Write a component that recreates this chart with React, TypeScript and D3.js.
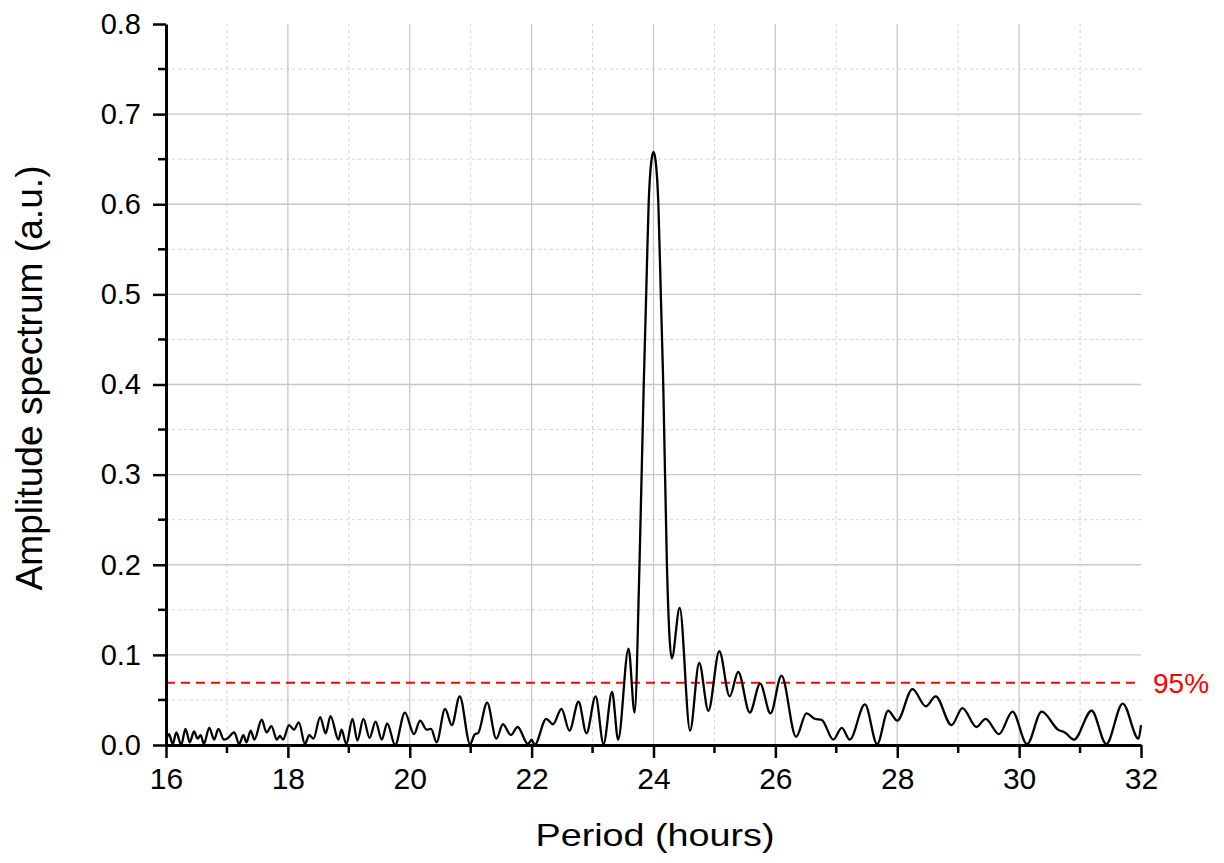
import React, { useRef, useEffect } from "react";
import * as d3 from "d3";

// period (hours) of each local extreme
const periods = [
  16.0, 16.05, 16.11, 16.17, 16.25, 16.32, 16.39, 16.46, 16.52, 16.57, 16.62,
  16.71, 16.79, 16.86, 16.95, 17.0, 17.12, 17.2, 17.27, 17.32, 17.39, 17.45,
  17.57, 17.65, 17.73, 17.82, 17.87, 17.92, 18.02, 18.1, 18.18, 18.28, 18.35,
  18.42, 18.53, 18.62, 18.7, 18.83, 18.88, 18.96, 19.06, 19.14, 19.24, 19.34,
  19.44, 19.54, 19.63, 19.76, 19.92, 20.07, 20.17, 20.28, 20.35, 20.44, 20.58,
  20.69, 20.82, 20.99, 21.07, 21.12, 21.27, 21.42, 21.53, 21.66, 21.77, 21.94,
  22.0, 22.05, 22.24, 22.35, 22.49, 22.62, 22.77, 22.9, 23.05, 23.18, 23.32,
  23.42, 23.59, 23.69, 23.77, 23.84, 23.88, 23.92, 23.965, 24.0, 24.035, 24.08,
  24.12, 24.16, 24.22, 24.3, 24.43, 24.6, 24.75, 24.9, 25.08, 25.25, 25.39,
  25.58, 25.75, 25.92, 26.1, 26.34, 26.51, 26.65, 26.76, 26.95, 27.09, 27.22,
  27.47, 27.67, 27.85, 28.0, 28.25, 28.47, 28.63, 28.89, 29.07, 29.3, 29.45,
  29.67, 29.89, 30.13, 30.37, 30.64, 30.75, 30.9, 31.19, 31.43, 31.7, 31.96,
  32.0,
];

// amplitude spectrum (a.u.) at those periods
const amplitudes = [
  0.004, 0.012, 0.001, 0.014, 0.0, 0.018, 0.003, 0.015, 0.007, 0.011, 0.001,
  0.019, 0.006, 0.018, 0.006, 0.007, 0.014, 0.001, 0.011, 0.003, 0.016, 0.006,
  0.028, 0.014, 0.021, 0.006, 0.01, 0.006, 0.022, 0.017, 0.025, 0.001, 0.011,
  0.007, 0.031, 0.013, 0.032, 0.006, 0.017, 0.001, 0.029, 0.005, 0.029, 0.008,
  0.026, 0.006, 0.024, 0.0, 0.036, 0.012, 0.027, 0.017, 0.018, 0.003, 0.04,
  0.022, 0.054, 0.001, 0.012, 0.013, 0.047, 0.007, 0.023, 0.011, 0.02, 0.001,
  0.006, 0.0, 0.029, 0.023, 0.04, 0.016, 0.048, 0.013, 0.054, 0.001, 0.059,
  0.006, 0.107, 0.036, 0.2, 0.4, 0.5, 0.6, 0.648, 0.658, 0.648, 0.6,
  0.5, 0.4, 0.2, 0.096, 0.152, 0.016, 0.091, 0.038, 0.104, 0.054, 0.081,
  0.036, 0.068, 0.035, 0.077, 0.009, 0.035, 0.029, 0.028, 0.006, 0.019, 0.006,
  0.045, 0.001, 0.038, 0.027, 0.062, 0.043, 0.054, 0.022, 0.041, 0.02, 0.029,
  0.012, 0.037, 0.001, 0.037, 0.017, 0.014, 0.006, 0.038, 0.001, 0.046, 0.007,
  0.022,
];

const threshold = 0.069;
const thresholdLabel = "95%";

const xMajor = [16, 18, 20, 22, 24, 26, 28, 30, 32];
const xMinor = [17, 19, 21, 23, 25, 27, 29, 31];
const yMajor = [0, 0.1, 0.2, 0.3, 0.4, 0.5, 0.6, 0.7, 0.8];
const yMinor = [0.05, 0.15, 0.25, 0.35, 0.45, 0.55, 0.65, 0.75];

const FONT = "'Liberation Sans', Arial, sans-serif";

const App = () => {
  const svgRef = useRef<SVGSVGElement>(null);

  useEffect(() => {
    const margin = { top: 24, left: 166 };
    const width = 975,
      height = 721;

    const root = d3.select(svgRef.current);
    root.selectAll("*").remove();
    const svg = root
      .append("g")
      .attr("transform", `translate(${margin.left},${margin.top})`);

    const x = d3.scaleLinear().domain([16, 32]).range([0, width]);
    const y = d3.scaleLinear().domain([0, 0.8]).range([height, 0]);

    // grid
    svg
      .selectAll(".vminor")
      .data(xMinor)
      .enter()
      .append("line")
      .attr("x1", (d) => x(d))
      .attr("x2", (d) => x(d))
      .attr("y1", 0)
      .attr("y2", height)
      .attr("stroke", "#d4d4d4")
      .attr("stroke-dasharray", "3,3");
    svg
      .selectAll(".hminor")
      .data(yMinor)
      .enter()
      .append("line")
      .attr("x1", 0)
      .attr("x2", width)
      .attr("y1", (d) => y(d))
      .attr("y2", (d) => y(d))
      .attr("stroke", "#d4d4d4")
      .attr("stroke-dasharray", "3,3");
    svg
      .selectAll(".vmajor")
      .data(xMajor.slice(1, -1))
      .enter()
      .append("line")
      .attr("x1", (d) => x(d))
      .attr("x2", (d) => x(d))
      .attr("y1", 0)
      .attr("y2", height)
      .attr("stroke", "#c8c8c8")
      .attr("stroke-width", 1.3);
    svg
      .selectAll(".hmajor")
      .data(yMajor.slice(1, -1))
      .enter()
      .append("line")
      .attr("x1", 0)
      .attr("x2", width)
      .attr("y1", (d) => y(d))
      .attr("y2", (d) => y(d))
      .attr("stroke", "#c8c8c8")
      .attr("stroke-width", 1.3);

    // 95% line
    svg
      .append("line")
      .attr("x1", 0)
      .attr("x2", width)
      .attr("y1", y(threshold))
      .attr("y2", y(threshold))
      .attr("stroke", "#ff0000")
      .attr("stroke-width", 2)
      .attr("stroke-dasharray", "9,6");
    svg
      .append("text")
      .attr("x", width + 12)
      .attr("y", y(threshold))
      .attr("dy", "0.36em")
      .attr("fill", "#ff0000")
      .style("font-family", FONT)
      .style("font-size", "28px")
      .text(thresholdLabel);

    // spectrum
    const pts: [number, number][] = periods.map((p, i) => [p, amplitudes[i]]);
    const line = d3
      .line<[number, number]>()
      .x((d) => x(d[0]))
      .y((d) => y(d[1]))
      .curve(d3.curveMonotoneX);
    svg
      .append("path")
      .datum(pts)
      .attr("d", line)
      .attr("fill", "none")
      .attr("stroke", "#000")
      .attr("stroke-width", 2.3)
      .attr("stroke-linejoin", "round");

    // axes
    const xAxis = svg.append("g").attr("transform", `translate(0,${height})`);
    xAxis
      .call(d3.axisBottom(x).tickValues(xMajor).tickSize(13).tickSizeOuter(0).tickFormat(d3.format("d")))
      .call((g) => g.select(".domain").attr("stroke-width", 3))
      .call((g) => g.selectAll(".tick line").attr("stroke-width", 2.5))
      .call((g) =>
        g
          .selectAll(".tick text")
          .attr("y", 23)
          .attr("dy", "0.71em")
          .style("font-family", FONT)
          .style("font-size", "30px")
      );
    xAxis
      .selectAll(".xminor")
      .data(xMinor)
      .enter()
      .append("line")
      .attr("x1", (d) => x(d))
      .attr("x2", (d) => x(d))
      .attr("y1", 0)
      .attr("y2", 8)
      .attr("stroke", "#000")
      .attr("stroke-width", 2.5);

    const yAxis = svg.append("g");
    yAxis
      .call(d3.axisLeft(y).tickValues(yMajor).tickSize(13).tickSizeOuter(0).tickFormat(d3.format(".1f")))
      .call((g) => g.select(".domain").attr("stroke-width", 3))
      .call((g) => g.selectAll(".tick line").attr("stroke-width", 2.5))
      .call((g) =>
        g
          .selectAll(".tick text")
          .attr("x", -25)
          .style("font-family", FONT)
          .style("font-size", "29px")
      );
    yAxis
      .selectAll(".yminor")
      .data(yMinor)
      .enter()
      .append("line")
      .attr("x1", -8)
      .attr("x2", 0)
      .attr("y1", (d) => y(d))
      .attr("y2", (d) => y(d))
      .attr("stroke", "#000")
      .attr("stroke-width", 2.5);

    // titles
    root
      .append("text")
      .attr("x", 655)
      .attr("y", 846)
      .attr("text-anchor", "middle")
      .attr("textLength", 239)
      .attr("lengthAdjust", "spacingAndGlyphs")
      .style("font-family", FONT)
      .style("font-size", "32px")
      .text("Period (hours)");
    root
      .append("text")
      .attr("transform", "translate(42,378) rotate(-90)")
      .attr("text-anchor", "middle")
      .attr("textLength", 425)
      .attr("lengthAdjust", "spacingAndGlyphs")
      .style("font-family", FONT)
      .style("font-size", "37px")
      .text("Amplitude spectrum (a.u.)");
  }, []);

  return (
    <div style={{ position: "absolute", left: 0, top: 0 }}>
      <svg ref={svgRef} width={1224} height={863} style={{ display: "block", background: "#fff" }}></svg>
    </div>
  );
};

export default App;
